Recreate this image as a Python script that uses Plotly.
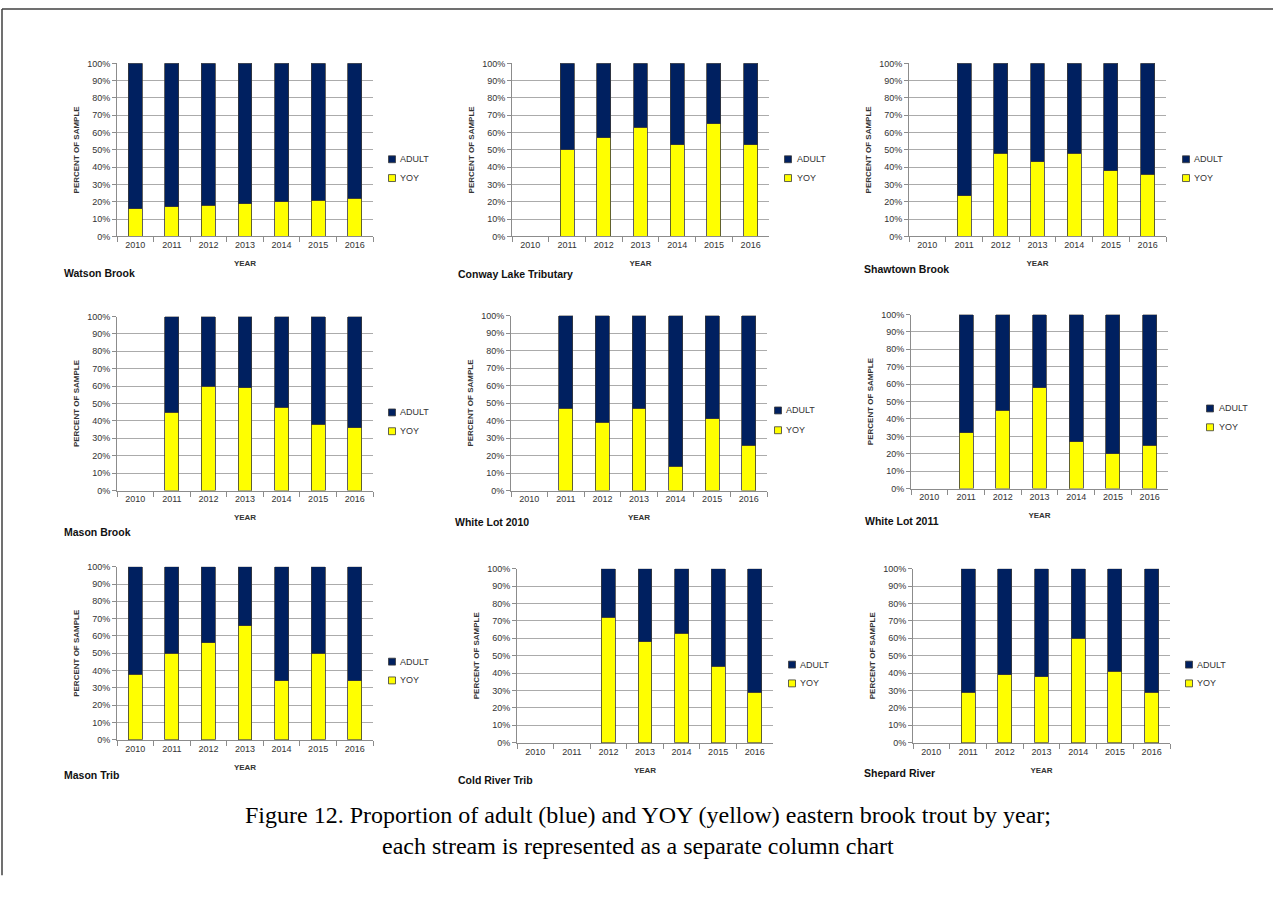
import plotly.graph_objects as go

# Survey years shown on every category axis
YEARS = ["2010", "2011", "2012", "2013", "2014", "2015", "2016"]

STREAMS = [
    "Watson Brook", "Conway Lake Tributary", "Shawtown Brook",
    "Mason Brook", "White Lot 2010", "White Lot 2011",
    "Mason Trib", "Cold River Trib", "Shepard River",
]

# Percent of each year's sample that was young-of-year (None = not sampled)
yoy_watson_brook = [16, 17, 18, 19, 20, 21, 22]
yoy_conway_lake_trib = [None, 50, 57, 63, 53, 65, 53]
yoy_shawtown_brook = [None, 23.5, 48, 43, 48, 38, 36]
yoy_mason_brook = [None, 45, 60, 59, 48, 38, 36]
yoy_white_lot_2010 = [None, 47, 39, 47, 14, 41, 26]
yoy_white_lot_2011 = [None, 32, 45, 58, 27, 20, 25]
yoy_mason_trib = [38, 50, 56, 66, 34, 50, 34]
yoy_cold_river_trib = [None, None, 72, 58, 63, 44, 29]
yoy_shepard_river = [None, 29, 39, 38, 60, 41, 29]

YOY = [
    yoy_watson_brook, yoy_conway_lake_trib, yoy_shawtown_brook,
    yoy_mason_brook, yoy_white_lot_2010, yoy_white_lot_2011,
    yoy_mason_trib, yoy_cold_river_trib, yoy_shepard_river,
]

CAPTION_1 = "Figure 12. Proportion of adult (blue) and YOY (yellow) eastern brook trout by year;"
CAPTION_2 = "each stream is represented as a separate column chart"

W, H = 1273, 902
ADULT_COLOR = "#002060"
YOY_COLOR = "#FFFF00"
EDGE = "#3a3a3a"
AXIS_GRAY = "#8c8c8c"
GRID_GRAY = "#ababab"
TEXT = "#333333"
SANS = "Liberation Sans, Arial, sans-serif"


def px(x):
    return x / W


def py(y):
    return 1 - y / H


# Panel frames in page pixels:
# plot left, right, top, bottom, legend swatch x, legend text x,
# ADULT row y, YOY row y, stream label x, stream label y
FRAMES = [
    (117, 373, 59, 234, 392, 398, 156, 175, 62, 271),
    (512, 769, 59, 234, 788, 795, 156, 175, 456, 272),
    (909, 1166, 59, 234, 1186, 1192, 156, 175, 862, 267),
    (117, 373, 315, 491, 392, 398, 412, 431, 62, 533),
    (511, 767, 314, 491, 778, 784, 410, 430, 453, 523),
    (911, 1168, 313, 489, 1210, 1217, 408, 427, 863, 522),
    (117, 373, 568, 743, 392, 398, 664, 683, 62, 779),
    (517, 773, 570, 746, 792, 798, 667, 686, 456, 784),
    (913, 1170, 570, 746, 1189, 1195, 667, 686, 862, 777),
]

fig = go.Figure()
shapes = []
annotations = []
layout_axes = {}

for i, (name, yoy, fr) in enumerate(zip(STREAMS, YOY, FRAMES)):
    l, r, t, b, sw_x, tx_x, ad_y, yo_y, lab_x, lab_y = fr
    s = "" if i == 0 else str(i + 1)
    adult = [None if v is None else 100 - v for v in yoy]

    fig.add_trace(go.Bar(
        x=YEARS, y=yoy, name="YOY", xaxis="x" + s, yaxis="y" + s,
        marker=dict(color=YOY_COLOR, line=dict(color=EDGE, width=0.8)),
        showlegend=False,
    ))
    fig.add_trace(go.Bar(
        x=YEARS, y=adult, name="ADULT", xaxis="x" + s, yaxis="y" + s,
        marker=dict(color=ADULT_COLOR, line=dict(color=EDGE, width=0.8)),
        showlegend=False,
    ))

    layout_axes["xaxis" + s] = dict(
        domain=[px(l), px(r)], anchor="y" + s,
        type="category", categoryorder="array", categoryarray=YEARS,
        range=[-0.5, 6.5], showgrid=False,
        showline=True, linecolor=AXIS_GRAY, linewidth=1,
        ticks="outside", tickson="boundaries", ticklen=5,
        tickcolor=AXIS_GRAY, tickwidth=1,
        tickfont=dict(family=SANS, size=9, color=TEXT),
        title=dict(text="<b>YEAR</b>", standoff=11,
                   font=dict(family=SANS, size=8, color=TEXT)),
        fixedrange=True,
    )
    layout_axes["yaxis" + s] = dict(
        domain=[py(b), py(t)], anchor="x" + s,
        range=[0, 100], dtick=10, ticksuffix="%",
        showgrid=True, gridcolor=GRID_GRAY, gridwidth=1, zeroline=False,
        showline=True, linecolor=AXIS_GRAY, linewidth=1,
        ticks="outside", ticklen=4, tickcolor=AXIS_GRAY,
        tickfont=dict(family=SANS, size=9, color=TEXT),
        title=dict(text="<b>PERCENT OF SAMPLE</b>", standoff=6,
                   font=dict(family=SANS, size=8, color=TEXT)),
        fixedrange=True,
    )

    # stream name under each chart
    annotations.append(dict(
        text="<b>%s</b>" % name, x=px(lab_x), y=py(lab_y),
        xref="paper", yref="paper", xanchor="left", yanchor="middle",
        showarrow=False, font=dict(family=SANS, size=10.5, color="#111111"),
    ))

    # per-chart key: ADULT above YOY
    for label, color, yy in (("ADULT", ADULT_COLOR, ad_y), ("YOY", YOY_COLOR, yo_y)):
        shapes.append(dict(
            type="rect", xref="paper", yref="paper",
            x0=px(sw_x - 3.5), x1=px(sw_x + 3.5),
            y0=py(yy + 3.5), y1=py(yy - 3.5),
            fillcolor=color, line=dict(color=EDGE, width=0.8),
        ))
        annotations.append(dict(
            text=label, x=px(tx_x), y=py(yy),
            xref="paper", yref="paper", xanchor="left", yanchor="middle",
            showarrow=False, font=dict(family=SANS, size=9, color=TEXT),
        ))

# caption
for txt, cx, yy in ((CAPTION_1, 648, 819), (CAPTION_2, 638, 850)):
    annotations.append(dict(
        text=txt, x=px(cx), y=py(yy), xref="paper", yref="paper",
        xanchor="center", yanchor="middle", showarrow=False,
        font=dict(family="Liberation Serif, Times New Roman, serif", size=24, color="#000000"),
    ))

# page frame (top and left edges)
shapes.append(dict(type="line", xref="paper", yref="paper",
                   x0=px(2), x1=px(W + 5), y0=py(4), y1=py(4),
                   line=dict(color="#404040", width=1.5)))
shapes.append(dict(type="line", xref="paper", yref="paper",
                   x0=px(2), x1=px(2), y0=py(4), y1=py(880),
                   line=dict(color="#404040", width=1.5)))

fig.update_layout(
    width=W, height=H,
    margin=dict(l=0, r=0, t=0, b=0),
    paper_bgcolor="white", plot_bgcolor="white",
    barmode="stack", bargap=0.62,
    showlegend=False,
    shapes=shapes, annotations=annotations,
    **layout_axes,
)

fig.write_html("out.html")
